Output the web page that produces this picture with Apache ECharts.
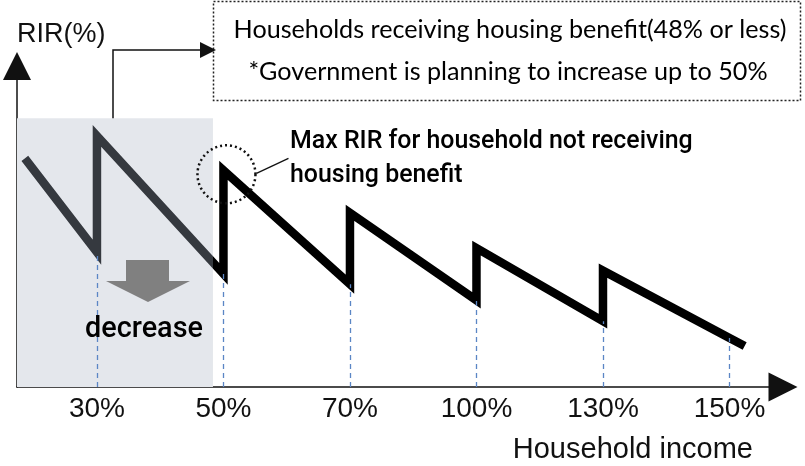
<!DOCTYPE html>
<html><head><meta charset="utf-8">
<script src="https://cdn.jsdelivr.net/npm/echarts@6/dist/echarts.min.js"></script>
<style>html,body{margin:0;padding:0;background:#fff}#main{width:805px;height:466px}</style>
</head><body><div id="main"></div>
<script>
// ---- data ----
const incomeTicks = ['30%', '50%', '70%', '100%', '130%', '150%'];
const tickIndex = [0, 1, 2, 3, 4, 5];
const rirBeforeJump = [16.8, 14.1, 12.8, 10.8, 8.2, 6.1];
const rirAfterJump = [31.3, 27.0, 21.7, 17.3, 14.5];
const lineStart = [-0.57, 28.5];
const lineEnd = [5.12, 5.1];
const benefitLimit = 0.917;   // 48% cut-off, on the index scale
const shadeTop = 33.5;
const yName = 'RIR(%)';
const xName = 'Household income';
const boxLines = ['Households receiving housing benefit(48% or less)', '*Government is planning to increase up to 50%'];
const noteLines = ['Max RIR for household not receiving', 'housing benefit'];
const arrowText = 'decrease';

// ---- layout ----
const xMin = -0.632, xMax = 5.423, yMin = 0, yMax = 40;

const points = [lineStart];
tickIndex.forEach((t, i) => {
  points.push([t, rirBeforeJump[i]]);
  if (i < rirAfterJump.length) points.push([t, rirAfterJump[i]]);
});
points.push(lineEnd);

const chart = echarts.init(document.getElementById('main'), null, { renderer: 'canvas' });
const axisLineStyle = { color: '#111', width: 1.5 };
const LS = '"Liberation Sans", Arial, sans-serif';

chart.setOption({
  animation: false,
  backgroundColor: '#fff',
  grid: { left: 17, right: 22, top: 66, bottom: 79 },
  xAxis: {
    type: 'value', min: xMin, max: xMax,
    axisLine: { show: true, onZero: false, symbol: ['none', 'triangle'], symbolSize: [29, 29], lineStyle: axisLineStyle },
    axisTick: { show: false },
    splitLine: { show: false },
    axisLabel: {
      customValues: tickIndex,
      formatter: v => incomeTicks[tickIndex.indexOf(Math.round(v))],
      fontSize: 28, color: '#111', margin: 8, fontFamily: LS
    }
  },
  yAxis: {
    type: 'value', min: yMin, max: yMax,
    axisLine: { show: true, onZero: false, symbol: ['none', 'triangle'], symbolSize: [28, 28], lineStyle: axisLineStyle },
    axisTick: { show: false }, axisLabel: { show: false }, splitLine: { show: false }
  },
  series: [
    {
      type: 'line', data: [], z: 1, silent: true,
      markArea: {
        silent: true, itemStyle: { color: '#e4e7ec' },
        data: [[{ coord: [xMin, 0] }, { coord: [benefitLimit, shadeTop] }]]
      },
      markLine: {
        silent: true, symbol: 'none', label: { show: false },
        lineStyle: { type: [5, 4], color: '#5b86c5', width: 1.3 },
        data: tickIndex.map((t, i) => [{ coord: [t, 0] }, { coord: [t, rirBeforeJump[i]] }])
      }
    },
    {
      type: 'line', data: points, symbol: 'none', z: 3, silent: true,
      lineStyle: { width: 8.5, join: 'miter', cap: 'butt', miterLimit: 10, color: '#000' }
    }
  ]
});

function fitSize(text, font, targetW, base) {
  const c = document.createElement('canvas').getContext('2d');
  c.font = font.replace('SIZE', base + 'px');
  return base * targetW / c.measureText(text).width;
}

const p = (x, y) => chart.convertToPixel({ gridIndex: 0 }, [x, y]);
const peak = p(tickIndex[1], rirAfterJump[1]);
const cx = peak[0] + 3, cy = peak[1] + 4;
const shadeCorner = p(xMin, shadeTop);
const limitPx = p(benefitLimit, 0)[0];
const boxFont = fitSize(boxLines[0], 'SIZE Lato', 553, 25);
const noteFont = fitSize(noteLines[0], '500 SIZE Roboto', 403, 25);
const decFont = fitSize(arrowText, '500 SIZE Roboto', 118, 28);

const lineGradient = new echarts.graphic.LinearGradient(0, 0, limitPx * 2, 0, [
  { offset: 0, color: '#35393f' }, { offset: 0.5, color: '#35393f' },
  { offset: 0.5, color: '#000' }, { offset: 1, color: '#000' }
], true);

const txt = (text, x, y, size, align, family, weight, fill) => ({
  type: 'text', x, y, silent: true, z: 100,
  style: { text, fontSize: size, fontFamily: family || LS, fontWeight: weight || 'normal',
           fill: fill || '#111', align, verticalAlign: 'middle' }
});

chart.setOption({
  series: [{}, { lineStyle: { color: lineGradient } }],
  graphic: [
    { type: 'rect', silent: true, z: 100, shape: { x: 213.5, y: 1.5, width: 587, height: 99 },
      style: { fill: 'none', stroke: '#222', lineWidth: 1.5, lineDash: [2, 2] } },
    txt(boxLines[0], 510, 30, boxFont, 'center', 'Lato', 'normal', '#000'),
    txt(boxLines[1], 508, 72, boxFont, 'center', 'Lato', 'normal', '#000'),
    { type: 'polyline', silent: true, z: 100, shape: { points: [[113, shadeCorner[1]], [113, 50], [202, 50]] },
      style: { stroke: '#111', lineWidth: 1.5, fill: null } },
    { type: 'polygon', silent: true, z: 100, shape: { points: [[200, 42], [216, 50], [200, 58]] }, style: { fill: '#111' } },
    { type: 'circle', silent: true, z: 100, shape: { cx, cy, r: 29 },
      style: { fill: 'none', stroke: '#111', lineWidth: 2.5, lineDash: [2, 3] } },
    { type: 'line', silent: true, z: 100, shape: { x1: cx + 30, y1: cy - 1, x2: cx + 62, y2: cy - 16 },
      style: { stroke: '#111', lineWidth: 1.3 } },
    txt(noteLines[0], 290, 142, noteFont, 'left', 'Roboto', 500, '#000'),
    txt(noteLines[1], 290, 176, noteFont, 'left', 'Roboto', 500, '#000'),
    { type: 'polygon', silent: true, z: 100,
      shape: { points: [[126, 260], [169, 260], [169, 281], [190, 281], [148, 302], [106, 281], [126, 281]] },
      style: { fill: '#808080' } },
    txt(arrowText, 85, 330, decFont, 'left', 'Roboto', 500, '#000'),
    txt(yName, 17, 35, 27, 'left'),
    txt(xName, 753, 450, 29, 'right')
  ]
});
</script></body></html>
